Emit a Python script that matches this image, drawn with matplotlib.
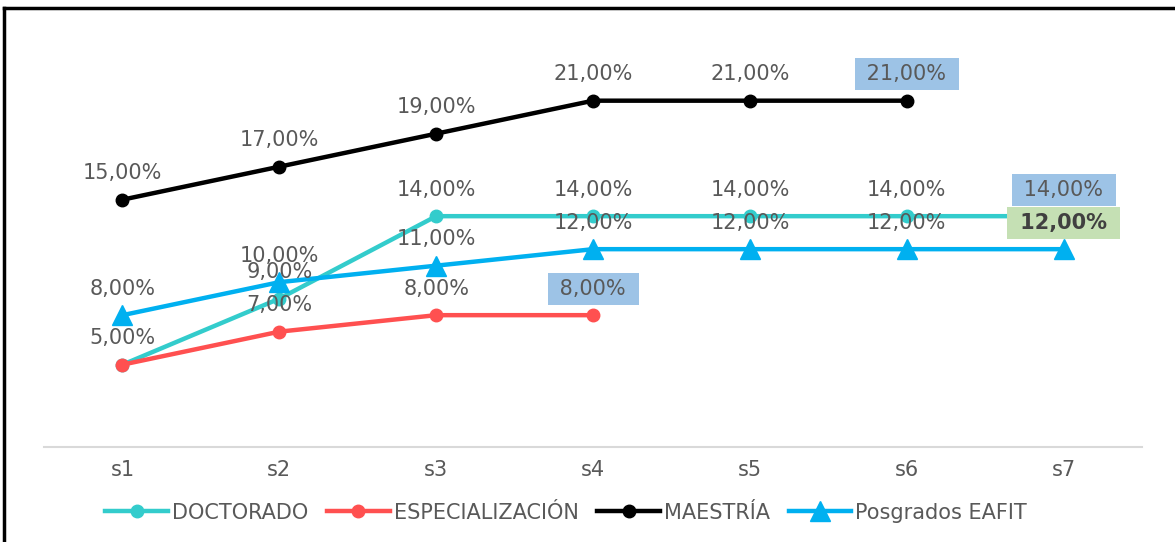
import matplotlib.pyplot as plt
import numpy as np
from matplotlib.lines import Line2D

cats = ["s1", "s2", "s3", "s4", "s5", "s6", "s7"]
doctorado = [5, 9, 14, 14, 14, 14, 14]
especializacion = [5, 7, 8, 8, np.nan, np.nan, np.nan]
maestria = [15, 17, 19, 21, 21, 21, np.nan]
posgrados = [8, 10, 11, 12, 12, 12, 12]

names = ["DOCTORADO", "ESPECIALIZACIÓN", "MAESTRÍA", "Posgrados EAFIT"]
series = [doctorado, especializacion, maestria, posgrados]
colors = ["#33CCCC", "#FF5050", "#000000", "#00B0F0"]
markers = ["o", "o", "o", "^"]
msizes = [9, 9, 9, 14]

# labels drawn with a highlight box: (series index, point index) -> colour
boxed = {(0, 6): "#9DC3E6", (1, 3): "#9DC3E6", (2, 5): "#9DC3E6", (3, 6): "#C5E0B4"}
skip = {(0, 0)}  # same label as the red one at s1

fig = plt.figure(figsize=(11.75, 5.42), dpi=100)
ax = fig.add_axes([0.0375, 0.175, 0.9345, 0.761])

x = np.arange(len(cats))
for i, (vals, c, m, ms) in enumerate(zip(series, colors, markers, msizes)):
    ax.plot(x, vals, color=c, lw=3.2, marker=m, ms=ms, zorder=2 + i * 0.1, label=names[i])

txt = "#595959"
for i, vals in enumerate(series):
    for j, v in enumerate(vals):
        if np.isnan(v) or (i, j) in skip:
            continue
        s = f"{v:.2f}".replace(".", ",") + "%"
        kw = dict(ha="center", va="center", fontsize=15, color=txt, zorder=5)
        if (i, j) in boxed:
            s = " " + s + " "
            kw["bbox"] = dict(boxstyle="square,pad=0.28", fc=boxed[(i, j)], ec="none")
            if i == 3:
                kw["fontweight"] = "bold"
                kw["color"] = "#404040"
        ax.annotate(s, (j, v), xytext=(0, 19), textcoords="offset points", **kw)

ax.set_xlim(-0.5, 6.5)
ax.set_ylim(0, 25)
ax.set_xticks(x)
ax.set_xticklabels(cats, fontsize=15, color=txt)
ax.tick_params(axis="x", length=0, pad=9)
ax.set_yticks([])
for sp in ["top", "right", "left"]:
    ax.spines[sp].set_visible(False)
ax.spines["bottom"].set_color("#D9D9D9")
ax.spines["bottom"].set_linewidth(1.5)

fig.legend(loc="center", bbox_to_anchor=(0.482, 0.054), ncol=4, frameon=False,
           fontsize=15, handlelength=3.0, handletextpad=0.2, columnspacing=0.9,
           labelcolor=txt)

# frame of the screenshot
fig.add_artist(Line2D([0.0034, 1], [0.985, 0.985], color="black", lw=2.5, transform=fig.transFigure))
fig.add_artist(Line2D([0.0034, 0.0034], [0, 0.985], color="black", lw=2.5, transform=fig.transFigure))

fig.savefig("out.png", dpi=100)
